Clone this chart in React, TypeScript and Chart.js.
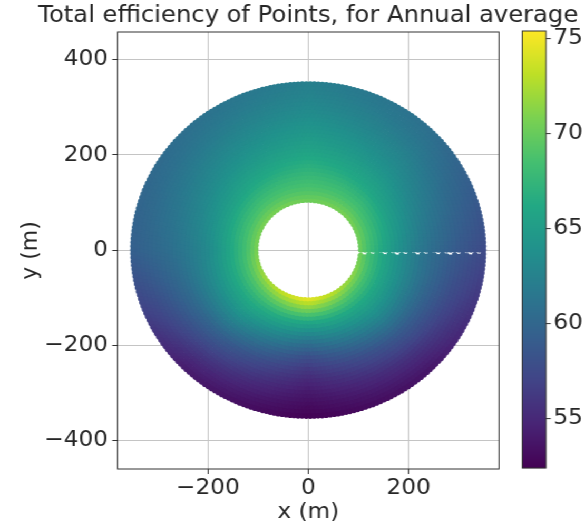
import React, { useEffect, useRef } from 'react';
import { Chart, registerables } from 'chart.js';

Chart.register(...registerables);

// ---- text ----
const TITLE = 'Total efficiency of Points, for Annual average';
const X_LABEL = 'x (m)';
const Y_LABEL = 'y (m)';

// ---- axes ----
const xTicks = [-200, 0, 200];
const yTicks = [-400, -200, 0, 200, 400];
const xRange = [-380, 380];
const yRange = [-460, 458];

// ---- colorbar ----
const colorbarTicks = [55, 60, 65, 70, 75];
const colorbarRange = [52.4, 75.4];

// ---- heliostat field layout (m) ----
const fieldInnerRadius = 105;
const fieldOuterRadius = 349;
const fieldRowSpacing = 8.13;
const fieldPointSpacing = 8;

// ---- efficiency (%), by radius and direction ----
const effRadii = [100, 125, 150, 175, 200, 225, 250, 275, 300, 325, 350];
const effAngles = [0, 45, 90, 135, 180, 225, 270, 315, 360];
const effEast = [70.5, 68.0, 66.0, 64.3, 62.8, 61.5, 60.5, 59.6, 58.8, 58.2, 57.6];
const effNorthEast = [71.0, 69.0, 67.5, 66.0, 65.0, 64.0, 63.2, 62.5, 61.8, 61.2, 60.8];
const effNorth = [70.5, 69.0, 68.0, 67.0, 66.0, 65.2, 64.5, 63.8, 63.2, 62.7, 62.3];
const effNorthWest = [71.0, 69.0, 67.5, 66.0, 65.0, 64.0, 63.2, 62.5, 61.8, 61.2, 60.8];
const effWest = [71.0, 68.5, 66.5, 64.8, 63.3, 62.3, 61.5, 60.8, 60.3, 59.8, 59.4];
const effSouthWest = [73.0, 69.5, 67.0, 65.3, 63.5, 61.5, 59.5, 58.0, 56.5, 55.2, 54.2];
const effSouth = [75.3, 71.0, 66.5, 63.3, 60.5, 58.0, 56.3, 55.0, 54.0, 53.2, 52.5];
const effSouthEast = [72.5, 69.0, 66.5, 64.8, 63.0, 61.0, 59.0, 57.5, 56.0, 54.8, 53.8];

// viridis colormap stops
const viridis = ['#440154', '#482475', '#414487', '#355f8d', '#2a788e', '#21918c', '#22a884', '#44bf70', '#7ad151', '#bddf26', '#fde725'];

const FONT = '"DejaVu Sans", "Liberation Sans", sans-serif';
const TEXT = '#262626';
const W = 555;
const H = 527;
const STRETCH = 585 / 555;

function hexToRgb(h: string) {
  return [parseInt(h.slice(1, 3), 16), parseInt(h.slice(3, 5), 16), parseInt(h.slice(5, 7), 16)];
}
const viridisRgb = viridis.map(hexToRgb);

function colorFor(v: number) {
  let t = (v - colorbarRange[0]) / (colorbarRange[1] - colorbarRange[0]);
  t = Math.max(0, Math.min(1, t));
  const f = t * (viridisRgb.length - 1);
  const i = Math.min(viridisRgb.length - 2, Math.floor(f));
  const u = f - i;
  const a = viridisRgb[i];
  const b = viridisRgb[i + 1];
  return `rgb(${Math.round(a[0] + (b[0] - a[0]) * u)},${Math.round(a[1] + (b[1] - a[1]) * u)},${Math.round(a[2] + (b[2] - a[2]) * u)})`;
}

const effRows = [effEast, effNorthEast, effNorth, effNorthWest, effWest, effSouthWest, effSouth, effSouthEast, effEast];

function sampleRow(row: number[], r: number) {
  if (r <= effRadii[0]) return row[0];
  for (let i = 0; i < effRadii.length - 1; i++) {
    if (r <= effRadii[i + 1]) {
      const u = (r - effRadii[i]) / (effRadii[i + 1] - effRadii[i]);
      return row[i] + (row[i + 1] - row[i]) * u;
    }
  }
  return row[row.length - 1];
}

function efficiencyAt(r: number, angDeg: number) {
  const a = ((angDeg % 360) + 360) % 360;
  let k = 0;
  while (k < effAngles.length - 2 && a > effAngles[k + 1]) k++;
  const u = (a - effAngles[k]) / (effAngles[k + 1] - effAngles[k]);
  const v0 = sampleRow(effRows[k], r);
  const v1 = sampleRow(effRows[k + 1], r);
  return v0 + (v1 - v0) * u;
}

function buildField() {
  const pts: { x: number; y: number }[] = [];
  const colors: string[] = [];
  for (let r = fieldInnerRadius; r <= fieldOuterRadius + 0.5; r += fieldRowSpacing) {
    const n = Math.floor((2 * Math.PI * r) / fieldPointSpacing);
    const dAng = fieldPointSpacing / r;
    for (let k = 0; k < n; k++) {
      const ang = k * dAng;
      pts.push({ x: r * Math.cos(ang), y: r * Math.sin(ang) });
      colors.push(colorFor(efficiencyAt(r, (ang * 180) / Math.PI)));
    }
  }
  return { pts, colors };
}

const fmt = (v: number | string) => {
  const n = Number(v);
  return n < 0 ? '\u2212' + Math.abs(n) : String(n);
};

const overlayPlugin = {
  id: 'overlay',
  afterDraw(chart: any) {
    const ctx = chart.ctx as CanvasRenderingContext2D;
    const a = chart.chartArea;
    ctx.save();
    // axes box
    ctx.strokeStyle = '#333333';
    ctx.lineWidth = 1;
    ctx.strokeRect(a.left, a.top, a.right - a.left, a.bottom - a.top);
    // title
    ctx.fillStyle = TEXT;
    ctx.font = `23px ${FONT}`;
    ctx.textAlign = 'center';
    ctx.textBaseline = 'alphabetic';
    ctx.fillText(TITLE, (a.left + a.right) / 2, 22);
    // colorbar
    const cbLeft = 495.5;
    const cbRight = 518;
    const cbTop = 31;
    const cbBottom = 468;
    const [vmin, vmax] = colorbarRange;
    for (let y = cbTop; y < cbBottom; y += 1) {
      const v = vmax - ((y + 0.5 - cbTop) / (cbBottom - cbTop)) * (vmax - vmin);
      ctx.fillStyle = colorFor(v);
      ctx.fillRect(cbLeft, y, cbRight - cbLeft, 1.2);
    }
    ctx.strokeStyle = '#333333';
    ctx.strokeRect(cbLeft, cbTop, cbRight - cbLeft, cbBottom - cbTop);
    ctx.font = `22px ${FONT}`;
    ctx.textAlign = 'left';
    ctx.textBaseline = 'middle';
    ctx.fillStyle = TEXT;
    for (const t of colorbarTicks) {
      const y = cbBottom - ((t - vmin) / (vmax - vmin)) * (cbBottom - cbTop);
      ctx.beginPath();
      ctx.moveTo(cbRight, y);
      ctx.lineTo(cbRight + 4.5, y);
      ctx.stroke();
      ctx.fillText(String(t), cbRight + 7, y);
    }
    ctx.restore();
  },
};

export default function App() {
  const ref = useRef<HTMLCanvasElement | null>(null);
  useEffect(() => {
    if (!ref.current) return;
    const { pts, colors } = buildField();
    const tickFont = { family: FONT, size: 22 };
    const chart = new Chart(ref.current, {
      type: 'scatter',
      data: {
        datasets: [
          {
            data: pts,
            pointRadius: 2.8,
            pointHoverRadius: 0,
            pointBorderWidth: 0,
            pointBackgroundColor: colors,
            showLine: false,
          } as any,
        ],
      },
      options: {
        animation: false,
        responsive: false,
        devicePixelRatio: 1,
        events: [],
        layout: { padding: { top: 32, right: W - 473.4, left: 0, bottom: 0 } },
        plugins: { legend: { display: false }, tooltip: { enabled: false }, title: { display: false } },
        scales: {
          x: {
            type: 'linear',
            min: xRange[0],
            max: xRange[1],
            z: 1,
            afterBuildTicks: (s: any) => {
              s.ticks = xTicks.map((v) => ({ value: v }));
            },
            afterFit: (s: any) => {
              s.height = 58;
            },
            ticks: { font: tickFont, color: TEXT, padding: 1, callback: fmt, maxRotation: 0, autoSkip: false },
            grid: { color: '#c4c4c4', lineWidth: 1, tickColor: '#333333', tickLength: 5, drawTicks: true },
            border: { display: false },
            title: { display: true, text: X_LABEL, font: tickFont, color: TEXT, padding: { top: 0, bottom: 2 } },
          },
          y: {
            type: 'linear',
            min: yRange[0],
            max: yRange[1],
            z: 1,
            afterBuildTicks: (s: any) => {
              s.ticks = yTicks.map((v) => ({ value: v }));
            },
            afterFit: (s: any) => {
              s.width = 111.5;
            },
            ticks: { font: tickFont, color: TEXT, padding: 4, callback: fmt, autoSkip: false },
            grid: { color: '#c4c4c4', lineWidth: 1, tickColor: '#333333', tickLength: 5, drawTicks: true },
            border: { display: false },
            title: { display: true, text: Y_LABEL, font: tickFont, color: TEXT, padding: { top: 16.4, bottom: 0 } },
          },
        },
      } as any,
      plugins: [overlayPlugin],
    });
    return () => chart.destroy();
  }, []);
  return (
    <div
      style={{
        position: 'absolute',
        left: 0,
        top: 0,
        width: W,
        height: H,
        transform: `scaleX(${STRETCH})`,
        transformOrigin: '0 0',
        background: '#fff',
      }}
    >
      <canvas ref={ref} width={W} height={H} style={{ display: 'block' }} />
    </div>
  );
}
